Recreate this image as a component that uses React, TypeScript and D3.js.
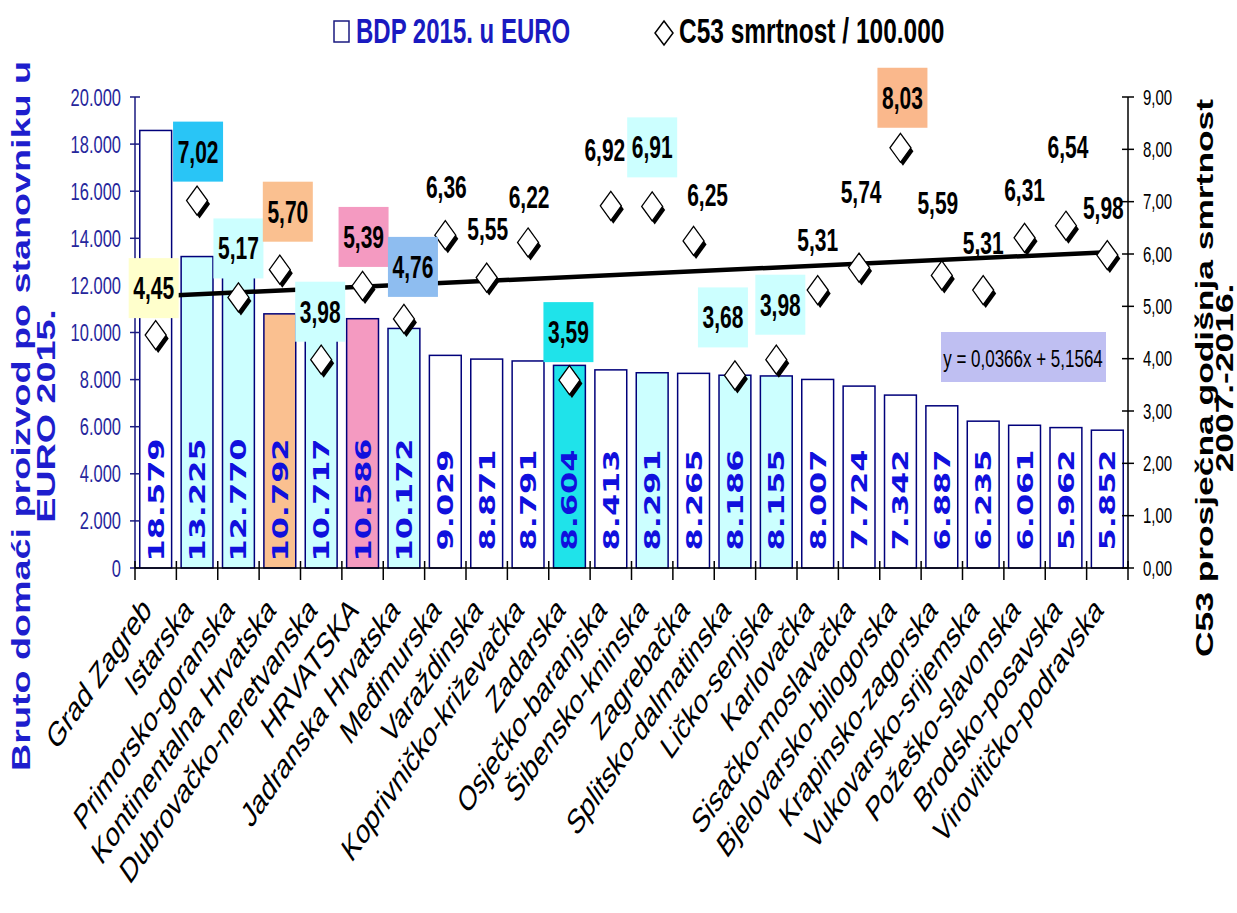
import React from "react";
import * as d3 from "d3";

const categories = [
  "Grad Zagreb", "Istarska", "Primorsko-goranska", "Kontinentalna Hrvatska",
  "Dubrovačko-neretvanska", "HRVATSKA", "Jadranska Hrvatska", "Međimurska",
  "Varaždinska", "Koprivničko-križevačka", "Zadarska", "Osječko-baranjska",
  "Šibensko-kninska", "Zagrebačka", "Splitsko-dalmatinska", "Ličko-senjska",
  "Karlovačka", "Sisačko-moslavačka", "Bjelovarsko-bilogorska", "Krapinsko-zagorska",
  "Vukovarsko-srijemska", "Požeško-slavonska", "Brodsko-posavska", "Virovitičko-podravska",
];
const bdp2015 = [
  18579, 13225, 12770, 10792, 10717, 10586, 10172, 9029, 8871, 8791, 8604, 8413,
  8291, 8265, 8186, 8155, 8007, 7724, 7342, 6887, 6235, 6061, 5962, 5852,
];
const c53 = [
  4.45, 7.02, 5.17, 5.7, 3.98, 5.39, 4.76, 6.36, 5.55, 6.22, 3.59, 6.92,
  6.91, 6.25, 3.68, 3.98, 5.31, 5.74, 8.03, 5.59, 5.31, 6.31, 6.54, 5.98,
];
const leftTicks = [0, 2000, 4000, 6000, 8000, 10000, 12000, 14000, 16000, 18000, 20000];
const rightTicks = [0, 1, 2, 3, 4, 5, 6, 7, 8, 9];
const trendSlope = 0.0366;
const trendIntercept = 5.1564;
const legendBars = "BDP 2015. u EURO";
const legendPoints = "C53 smrtnost / 100.000";
const leftTitle = ["Bruto domaći proizvod po stanovniku u", "EURO 2015."];
const rightTitle = ["C53 prosječna godišnja smrtnost", "2007.-2016."];
const equation = "y = 0,0366x + 5,1564";

// styles (not data)
const LC = "#CCFFFF";
const barFill = [
  "#FFFFFF", LC, LC, "#FAC090", LC, "#F49AC1", LC, "#FFFFFF", "#FFFFFF", "#FFFFFF",
  "#1FE3EA", "#FFFFFF", LC, "#FFFFFF", LC, LC, "#FFFFFF", "#FFFFFF", "#FFFFFF",
  "#FFFFFF", "#FFFFFF", "#FFFFFF", "#FFFFFF", "#FFFFFF",
];
const labelBox: (string | null)[] = [
  "#FFFFCC", "#29C5F6", LC, "#FAC090", LC, "#F49AC1", "#8EBDF0", null, null, null,
  "#1FE3EA", null, LC, null, LC, LC, null, null, "#FAB88C", null, null, null, null, null,
];
const labelOffset: [number, number][] = [
  [-2, -47], [1, -49], [0, -49], [8, -58], [-1, -48], [1, -49], [9, -52], [1, -48],
  [1, -48], [1, -45], [-1, -48], [-6, -56], [0, -59], [14, -46], [-12, -58], [4, -55],
  [0, -50], [2, -76], [2, -50], [-4, -72], [0, -47], [0, -48], [2, -79], [-4, -47],
];

const W = 1237, H = 913;
const X0 = 135, X1 = 1128, YB = 568, YT = 97;
const SY = 1.45;
const FONT = "'Liberation Sans', Arial, sans-serif";

function T(props: any) {
  const {
    x, y, size, rot = 0, nx = 1, anchor = "middle", weight = 400, fill = "#000",
    italic = false, ls = 0, family = FONT, children,
  } = props;
  return (
    <text
      transform={`translate(${x},${y}) scale(1,${SY}) rotate(${rot}) scale(${nx},1)`}
      textAnchor={anchor}
      fontSize={size}
      fontWeight={weight}
      fontFamily={family}
      fontStyle={italic ? "italic" : "normal"}
      letterSpacing={ls}
      fill={fill}
    >
      {children}
    </text>
  );
}

const fmtThousands = (v: number) => {
  const s = Math.round(v).toString();
  return s.length > 3 ? s.slice(0, s.length - 3) + "." + s.slice(-3) : s;
};
const fmtDec = (v: number) => v.toFixed(2).replace(".", ",");

export default function App() {
  const x = d3.scaleBand<string>().domain(categories).range([X0, X1]).padding(0);
  const yL = d3.scaleLinear().domain([0, 20000]).range([YB, YT]);
  const yR = d3.scaleLinear().domain([0, 9]).range([YB, YT]);
  const step = x.bandwidth();
  const bw = step * 0.77;
  const cx = (i: number) => (x(categories[i]) as number) + step / 2;

  const trendPts: [number, number][] = [0, categories.length - 1].map((i) => [
    cx(i),
    yR(trendSlope * (i + 1) + trendIntercept),
  ]);
  const trendPath = d3.line()(trendPts) as string;

  const diamond = (px: number, py: number) =>
    `M${px},${py - 14.5} L${px + 10.5},${py} L${px},${py + 14.5} L${px - 10.5},${py} Z`;

  const labelSize = 21;
  const boxW = 50, boxH = 60;

  return (
    <svg
      width={W}
      height={H}
      viewBox={`0 0 ${W} ${H}`}
      style={{ position: "absolute", left: 0, top: 0, background: "#fff" }}
    >
      <rect x={0} y={0} width={W} height={H} fill="#fff" />

      {/* legend */}
      <rect x={334} y={21} width={15} height={21} fill="#fff" stroke="#1a1a80" strokeWidth={1.5} />
      <T x={356} y={43} size={24} anchor="start" weight={700} fill="#1A1AC0">{legendBars}</T>
      <path d="M664,21 L673,33 L664,45 L655,33 Z" fill="#fff" stroke="#000" strokeWidth={1.5} />
      <T x={679} y={43} size={24.5} anchor="start" weight={700} fill="#000">{legendPoints}</T>

      {/* bars */}
      {bdp2015.map((v, i) => (
        <rect
          key={"b" + i}
          x={cx(i) - bw / 2}
          y={yL(v)}
          width={bw}
          height={YB - yL(v)}
          fill={barFill[i]}
          stroke="#00007A"
          strokeWidth={1.5}
        />
      ))}
      {bdp2015.map((v, i) => (
        <T
          key={"bl" + i}
          x={cx(i) + 8}
          y={500}
          size={22}
          rot={-90}
          anchor="middle"
          weight={700}
          family="'DejaVu Sans', Verdana, sans-serif"
          fill="#1010DD"
        >
          {fmtThousands(v)}
        </T>
      ))}

      {/* left axis */}
      <line x1={X0} y1={YT} x2={X0} y2={YB} stroke="#1a1a80" strokeWidth={1.5} />
      {leftTicks.map((t) => (
        <g key={"lt" + t}>
          <line x1={X0 - 5} x2={X0 + 5} y1={yL(t)} y2={yL(t)} stroke="#1a1a80" strokeWidth={1.5} />
          <T x={121} y={yL(t) + 0.358 * 16.5 * SY} size={16.5} anchor="end" fill="#26269C">
            {fmtThousands(t)}
          </T>
        </g>
      ))}

      {/* right axis */}
      <line x1={X1} y1={YT} x2={X1} y2={YB} stroke="#000" strokeWidth={1.5} />
      {rightTicks.map((t) => (
        <g key={"rt" + t}>
          <line x1={X1 - 6} x2={X1 + 6} y1={yR(t)} y2={yR(t)} stroke="#000" strokeWidth={1.5} />
          <T x={1143} y={yR(t) + 0.358 * 15 * SY} size={15} anchor="start" fill="#000">
            {fmtDec(t)}
          </T>
        </g>
      ))}

      {/* bottom axis */}
      <line x1={X0} y1={YB} x2={X1} y2={YB} stroke="#000" strokeWidth={1.5} />
      {d3.range(categories.length + 1).map((i) => (
        <line
          key={"bt" + i}
          x1={X0 + i * step}
          x2={X0 + i * step}
          y1={YB - 7}
          y2={YB + 12}
          stroke="#000"
          strokeWidth={1.5}
        />
      ))}

      {/* category labels */}
      {categories.map((c, i) => (
        <T
          key={"cl" + i}
          x={cx(i) - 3}
          y={612}
          size={24}
          rot={-45}
          anchor="end"
          weight={400}
          fill="#000"
        >
          {c}
        </T>
      ))}

      {/* trend line */}
      <path d={trendPath} stroke="#000" strokeWidth={4.5} fill="none" />

      {/* markers */}
      {c53.map((v, i) => (
        <g key={"m" + i}>
          <path d={diamond(cx(i) + 2.5, yR(v) + 3.5)} fill="#000" />
          <path d={diamond(cx(i), yR(v))} fill="#fff" stroke="#000" strokeWidth={1.3} />
        </g>
      ))}

      {/* data labels */}
      {c53.map((v, i) => {
        const lx = cx(i) + labelOffset[i][0];
        const ly = yR(v) + labelOffset[i][1];
        return (
          <g key={"dl" + i}>
            {labelBox[i] && (
              <rect x={lx - boxW / 2} y={ly - boxH / 2} width={boxW} height={boxH} fill={labelBox[i] as string} />
            )}
            <T x={lx} y={ly + 0.358 * labelSize * SY} size={labelSize} weight={700} fill="#000">
              {fmtDec(v)}
            </T>
          </g>
        );
      })}

      {/* equation */}
      <rect x={941} y={332} width={165} height={50} fill="#BFBFF2" />
      <T x={1023} y={358 + 0.358 * 17 * SY} size={17} fill="#000">{equation}</T>

      {/* axis titles */}
      <T x={30} y={416} size={26} rot={-90} weight={700} fill="#1E1ECD">{leftTitle[0]}</T>
      <T x={55} y={416} size={26} rot={-90} weight={700} fill="#1E1ECD">{leftTitle[1]}</T>
      <T x={1213} y={378} size={24.4} rot={-90} weight={700} fill="#000">{rightTitle[0]}</T>
      <T x={1233} y={378} size={24.4} rot={-90} weight={700} fill="#000">{rightTitle[1]}</T>
    </svg>
  );
}
